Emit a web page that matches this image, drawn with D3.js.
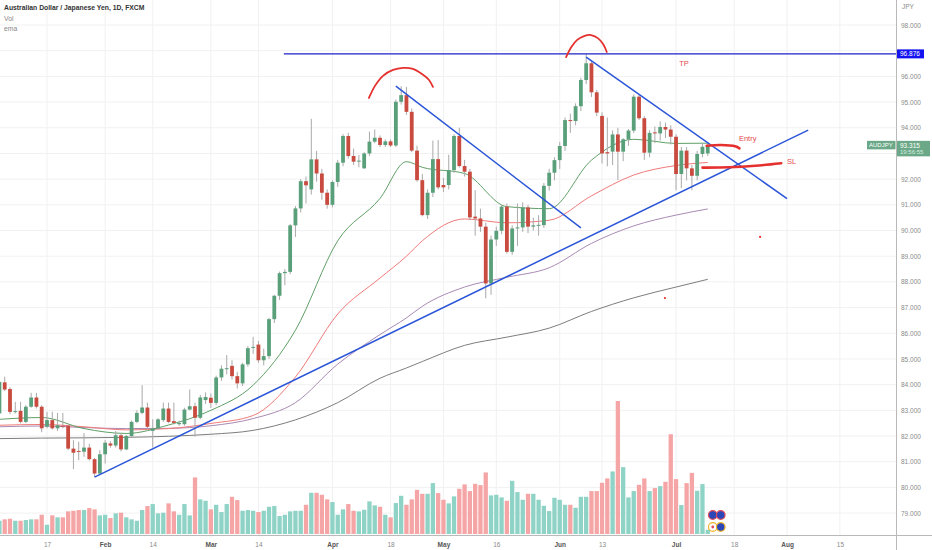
<!DOCTYPE html>
<html>
<head>
<meta charset="utf-8">
<script src="https://cdnjs.cloudflare.com/ajax/libs/d3/7.8.5/d3.min.js"></script>
<style>
	body { margin:0; background:#fff; }
	svg { display:block; font-family:"Liberation Sans", Arial, sans-serif; }
</style>
</head>
<body>
<div id="chart-div"></div>
<script>
//AUDJPY daily, FXCM - values

//Candles, first one is 2022-01-04, one per trading day
var firstCandleDate = "2022-01-04";
var candleOpen = [82.88,84.09,83.83,82.94,82.98,82.55,83.14,83.50,83.14,82.36,82.62,82.30,82.40,82.40,81.51,81.42,81.39,81.55,81.10,80.54,
	81.29,81.71,81.63,82.03,81.48,82.00,82.55,82.90,83.11,82.20,82.30,82.62,83.07,82.58,82.46,82.46,83.03,83.16,82.71,83.40,
	83.49,83.29,84.28,84.62,84.73,84.33,84.05,84.79,85.45,85.56,84.95,85.11,86.55,87.46,88.34,88.39,90.20,90.86,91.92,91.60,
	92.77,92.22,91.47,91.00,91.89,92.64,93.68,92.90,92.70,92.42,93.00,93.46,93.61,93.33,93.47,93.31,95.01,95.27,94.62,93.11,
	91.96,90.60,91.47,92.78,91.77,91.77,92.35,93.68,92.51,92.29,90.54,90.47,90.15,87.94,89.65,89.99,90.93,89.17,90.10,90.12,
	90.90,90.15,90.20,90.21,91.74,92.25,92.74,93.29,94.30,94.26,94.84,95.86,96.51,95.38,94.46,93.05,93.07,93.74,93.07,93.55,
	93.89,95.21,94.37,93.03,93.82,93.78,94.03,93.93,93.65,92.20,93.11,92.42,92.13,92.98,93.00];
var candleHigh = [84.20,84.31,83.90,83.33,83.33,83.20,83.68,83.68,83.20,82.94,82.95,82.90,82.90,82.45,81.84,81.78,82.12,81.70,81.15,81.45,
	81.84,81.80,82.20,82.10,82.05,82.60,83.00,83.98,83.30,82.65,82.70,83.30,83.30,83.30,82.60,83.10,83.81,83.30,83.60,83.70,
	83.65,84.35,84.75,85.15,84.95,84.50,84.85,85.50,85.86,85.70,85.40,86.60,87.50,88.40,88.50,90.25,90.95,92.00,92.10,94.35,
	93.10,92.40,91.60,91.95,92.75,93.75,93.80,93.19,92.94,93.05,93.85,93.93,93.70,93.55,93.55,95.10,95.62,95.59,94.75,93.30,
	92.20,91.60,93.50,93.52,92.05,92.95,93.75,94.00,92.75,92.40,91.57,90.85,90.30,89.80,90.15,91.00,91.05,90.20,91.05,91.10,
	91.00,90.50,90.60,91.85,92.40,92.85,93.45,94.40,94.55,94.95,95.95,96.88,96.62,95.47,94.60,94.40,93.90,94.00,93.60,93.95,
	95.30,95.28,94.45,93.90,94.05,94.25,94.20,94.10,93.75,93.25,93.25,92.55,93.10,93.40,93.45];
var candleLow = [82.80,83.75,82.85,82.88,82.49,82.50,83.10,83.07,82.15,82.30,82.25,82.20,82.30,81.45,80.71,81.06,81.19,81.05,80.41,80.48,
	80.93,81.55,81.55,81.40,81.45,81.95,82.50,82.85,82.30,81.55,82.25,82.55,82.50,82.45,82.40,82.40,83.00,81.98,82.65,83.25,
	83.10,83.20,84.15,84.40,84.20,83.85,83.95,84.70,85.20,84.85,84.75,85.00,86.40,87.30,87.87,88.30,89.75,90.70,91.05,91.40,
	91.90,91.20,90.85,90.90,91.70,92.50,92.80,92.55,92.46,92.40,92.90,93.40,93.25,93.25,93.25,93.25,94.90,94.50,93.05,91.90,
	90.55,90.45,91.30,91.60,91.50,91.60,92.25,92.45,92.10,90.40,89.80,89.95,87.36,87.50,89.40,89.85,89.10,89.05,89.40,89.95,
	89.90,90.00,89.80,90.10,91.55,91.95,92.40,93.10,93.80,94.10,94.65,95.70,95.20,94.45,92.61,92.50,92.55,91.96,92.70,93.30,
	93.80,94.30,92.75,92.85,93.40,93.50,93.60,93.35,91.57,91.65,91.95,91.57,91.95,92.85,92.90];
var candleClose = [84.11,83.81,82.94,82.97,82.55,83.14,83.50,83.14,82.30,82.62,82.30,82.42,82.38,81.51,81.35,81.40,81.55,81.10,80.54,81.29,
	81.74,81.63,82.03,81.48,82.00,82.55,82.90,83.11,82.36,82.30,82.65,83.07,82.55,82.51,82.51,83.03,83.16,82.71,83.50,83.52,
	83.29,84.28,84.62,84.64,84.33,84.05,84.79,85.42,85.47,84.95,85.11,86.55,87.46,88.34,88.39,90.20,90.86,91.92,91.76,92.77,
	92.22,91.47,91.00,91.89,92.64,93.68,92.90,92.68,92.72,93.00,93.46,93.61,93.33,93.47,93.31,95.01,95.27,94.62,93.11,91.96,
	90.60,91.47,92.78,91.68,91.68,92.35,93.68,92.51,92.29,90.51,90.47,90.15,87.94,89.65,89.99,90.93,89.17,90.08,90.12,90.90,
	90.15,90.20,90.22,91.74,92.25,92.74,93.29,94.30,94.26,94.84,95.86,96.51,95.38,94.59,93.00,93.00,93.74,93.07,93.55,93.89,
	95.21,94.37,93.03,93.80,93.78,94.03,93.93,93.65,92.20,93.11,92.42,92.13,92.98,93.26,93.315];
var volume = [13.3,14.7,15.3,13.3,13.3,14,14.7,14.7,19.3,9.3,18.7,16.7,16.7,22.7,23.3,24,24,26,24.7,18.7,
	19.3,16,20.7,21.3,16.7,14.7,13.3,24,28,30,20.7,21.3,30.7,22.7,19.3,30,18.7,56.7,34.7,33.3,
	24.7,29.3,22,30,37.3,34,23.3,24,23.3,22,23.3,27.3,28,18,19.3,22.7,23.3,23.3,29.3,41.3,
	41.3,39.3,34.7,32,19.3,24.7,30,23.3,22.7,24.3,32.7,28.7,27.3,19.3,16.7,31,38.3,29.3,34.7,44.3,
	40.3,40.3,51,41,34.3,30.7,37.7,45.3,49.7,43,50.3,49,61.7,38.7,39.3,36.7,33.3,53.3,42,34.3,
	40.3,40.3,34.3,28.3,23,36.3,34.3,29.3,29.3,26.3,37.3,37.3,43,43,51.3,55.7,62.7,133.3,67,36.7,
	43,49.3,55.7,43,46,48,52.3,100,55,29,51,61.3,43.3,50,4.3];

//EMA readings, sampled at bar numbers (bar 0 = 2022-01-03)
var emaBars   = [1,9,17,25,33,41,49,57,65,73,78,81,89,97,105,113,121,129,135];
var emaFast   = [82.65,82.72,82.29,82.10,82.43,83.00,83.98,86.12,89.60,91.25,92.68,92.46,92.22,90.93,90.85,92.74,93.55,93.39,93.40];
var emaMid    = [82.42,82.45,82.36,82.24,82.29,82.49,82.80,84.30,86.75,88.15,89.00,89.60,90.45,90.30,90.40,91.35,92.16,92.53,92.65];
var emaSlow   = [82.36,82.39,82.33,82.29,82.30,82.40,82.68,83.30,84.80,85.95,86.60,87.05,87.80,88.18,88.55,89.50,90.18,90.60,90.84];
var emaLong   = [81.90,81.92,81.93,81.95,81.99,82.07,82.22,82.63,83.30,84.25,84.65,84.90,85.53,85.85,86.20,86.85,87.38,87.80,88.10];

//Axis labels
var priceTicks = [79,80,81,82,83,84,85,86,87,88,89,90,91,92,93,94,95,96,97,98];
var tickDates  = ["2022-01-17","2022-02-01","2022-02-14","2022-03-01","2022-03-14","2022-04-01","2022-04-18","2022-05-02",
	"2022-05-16","2022-06-01","2022-06-13","2022-07-01","2022-07-18","2022-08-01","2022-08-15"];
var tickLabels = ["17","Feb","14","Mar","14","Apr","18","May","16","Jun","13","Jul","18","Aug","15"];
var monthNames = ["Feb","Mar","Apr","May","Jun","Jul","Aug"];

//Drawings on the chart, [bar number, price]
var tpLevel      = 96.876;
var tpStartBar   = 54.8;
var supportLine  = [[19, 80.40], [154, 93.91]];
var aprilLine    = [[76, 95.62], [111, 90.10]];
var juneLine     = [[112, 96.75], [150, 91.24]];
var aprilArc     = [[70.9,95.16],[72.05,95.63],[73.56,96.02],[75.46,96.25],[77.35,96.33],[79.24,96.29],[80.94,96.09],[82.27,95.86],[83.02,95.59]];
var juneArc      = [[108.2,96.75],[109.2,97.14],[110.3,97.42],[111.6,97.57],[112.9,97.61],[114.2,97.49],[115.2,97.26],[115.9,96.95]];
var entryMark    = [[134.8,93.30],[137.5,93.33],[140.2,93.28],[141.0,93.20]];
var stopMark     = [[134.0,92.45],[139,92.46],[144,92.52],[148.9,92.62]];
var noteLabels   = [{text:"TP", bar:129.6, price:96.40}, {text:"Entry", bar:140.9, price:93.48}, {text:"SL", bar:150, price:92.59}];
var redDots      = [[144.9,89.75],[126.9,87.37]];
var lastPrice    = 93.315;
var countdown    = "19:56:55";

//Canvas
var chartW = 932, chartH = 550,
	paneRight = 896, paneBottom = 535;

var upColor = "#59a07a", downColor = "#c94a3e", wickColor = "#a9a9a9",
	volUp = "#8fd3c6", volDown = "#f5a5a5";

//Trading calendar (weekdays) so bars line up with dates
var fmtDay = d3.timeFormat("%Y-%m-%d");
var tradingDays = d3.timeDay.range(new Date(2022,0,3), new Date(2022,8,1))
	.filter(function(d) { return d.getDay() != 0 && d.getDay() != 6; });
var dayIndex = {};
tradingDays.forEach(function(d, i) { dayIndex[fmtDay(d)] = i; });

var firstBar = dayIndex[firstCandleDate];
var candles = candleOpen.map(function(o, k) {
	return { bar: firstBar + k, open: o, high: candleHigh[k], low: candleLow[k], close: candleClose[k], vol: volume[k] };
});

//Scales
var barStep = 5.286;
var xScale = d3.scaleLinear().domain([0, 170]).range([-5.86, -5.86 + 170 * barStep]);
var yScale = d3.scaleLinear().domain([79, 98]).range([513.1, 25]);
var volScale = d3.scaleLinear().domain([0, d3.max(volume)]).range([534, 401]);

var svg = d3.select("#chart-div")
	.append("svg")
	.attr("width", chartW)
	.attr("height", chartH);

svg.append("rect").attr("width", chartW).attr("height", chartH).attr("fill", "#fff");

svg.append("clipPath").attr("id", "pane-clip")
	.append("rect").attr("x", 0).attr("y", 0).attr("width", paneRight).attr("height", paneBottom);

//Grid
var grid = svg.append("g").attr("class", "grid");
grid.selectAll("line.hgrid")
	.data(priceTicks)
	.enter()
	.append("line")
		.attr("x1", 0).attr("x2", paneRight)
		.attr("y1", function(d) { return yScale(d); })
		.attr("y2", function(d) { return yScale(d); })
		.attr("stroke", "#f1f1f3").attr("stroke-width", 1);
grid.selectAll("line.vgrid")
	.data(tickDates)
	.enter()
	.append("line")
		.attr("x1", function(d) { return xScale(dayIndex[d]); })
		.attr("x2", function(d) { return xScale(dayIndex[d]); })
		.attr("y1", 0).attr("y2", paneBottom)
		.attr("stroke", "#f1f1f3").attr("stroke-width", 1);

var pane = svg.append("g").attr("clip-path", "url(#pane-clip)");

//Volume
pane.selectAll("rect.vol")
	.data(candles)
	.enter()
	.append("rect")
		.attr("class", "vol")
		.attr("x", function(d) { return xScale(d.bar) - 2.15; })
		.attr("width", 4.3)
		.attr("y", function(d) { return volScale(d.vol); })
		.attr("height", function(d) { return volScale(0) - volScale(d.vol); })
		.attr("fill", function(d) { return d.close >= d.open ? volUp : volDown; });

//EMA lines
var emaLine = d3.line()
	.curve(d3.curveMonotoneX)
	.x(function(d, i) { return xScale(emaBars[i]); })
	.y(function(d) { return yScale(d); });

[[emaLong, "#7d7d7d"], [emaSlow, "#a98ab4"], [emaMid, "#f07a7a"], [emaFast, "#5f9f66"]].forEach(function(e) {
	pane.append("path")
		.datum(e[0])
		.attr("d", emaLine)
		.attr("fill", "none")
		.attr("stroke", e[1])
		.attr("stroke-width", 1);
});

//Candles
pane.selectAll("line.wick")
	.data(candles)
	.enter()
	.append("line")
		.attr("class", "wick")
		.attr("x1", function(d) { return xScale(d.bar); })
		.attr("x2", function(d) { return xScale(d.bar); })
		.attr("y1", function(d) { return yScale(d.high); })
		.attr("y2", function(d) { return yScale(d.low); })
		.attr("stroke", wickColor).attr("stroke-width", 1);

pane.selectAll("rect.body")
	.data(candles)
	.enter()
	.append("rect")
		.attr("class", "body")
		.attr("x", function(d) { return xScale(d.bar) - 1.9; })
		.attr("width", 3.8)
		.attr("y", function(d) { return yScale(Math.max(d.open, d.close)); })
		.attr("height", function(d) { return Math.max(1, Math.abs(yScale(d.open) - yScale(d.close))); })
		.attr("fill", function(d) { return d.close >= d.open ? upColor : downColor; });

//Drawings
var drawLine = d3.line()
	.x(function(d) { return xScale(d[0]); })
	.y(function(d) { return yScale(d[1]); });
var drawCurve = d3.line()
	.curve(d3.curveCatmullRom)
	.x(function(d) { return xScale(d[0]); })
	.y(function(d) { return yScale(d[1]); });

pane.append("path")
	.datum([[tpStartBar, tpLevel], [175, tpLevel]])
	.attr("d", drawLine)
	.attr("stroke", "#1c22c9").attr("stroke-width", 1.3).attr("fill", "none");

[supportLine, aprilLine, juneLine].forEach(function(l) {
	pane.append("path")
		.datum(l)
		.attr("d", drawLine)
		.attr("stroke", "#2a55d8").attr("stroke-width", 1.5).attr("fill", "none");
});

[aprilArc, juneArc].forEach(function(a) {
	pane.append("path")
		.datum(a)
		.attr("d", drawCurve)
		.attr("stroke", "#e5312e").attr("stroke-width", 1.8).attr("fill", "none")
		.attr("stroke-linecap", "round");
});

[entryMark, stopMark].forEach(function(a) {
	pane.append("path")
		.datum(a)
		.attr("d", drawCurve)
		.attr("stroke", "#e5312e").attr("stroke-width", 2.6).attr("fill", "none")
		.attr("stroke-linecap", "round");
});

pane.selectAll("text.note")
	.data(noteLabels)
	.enter()
	.append("text")
		.attr("x", function(d) { return xScale(d.bar); })
		.attr("y", function(d) { return yScale(d.price); })
		.text(function(d) { return d.text; })
		.attr("fill", "#e34b4b")
		.attr("font-size", "7.5px");

pane.selectAll("circle.dot")
	.data(redDots)
	.enter()
	.append("circle")
		.attr("cx", function(d) { return xScale(d[0]); })
		.attr("cy", function(d) { return yScale(d[1]); })
		.attr("r", 1.1)
		.attr("fill", "#e5312e");

//Event markers under the last bar
var markers = svg.append("g").attr("transform", "translate(" + (xScale(candles[candles.length - 1].bar) + 5) + ",0)");
[[0, 515, "#2c47b8", "#e04a5a"], [8, 515, "#2c47b8", "#e04a5a"], [0, 527, "#ffffff", "#f0b429"], [8, 527, "#2c47b8", "#f0b429"]].forEach(function(m) {
	markers.append("circle").attr("cx", m[0]).attr("cy", m[1]).attr("r", 4.3)
		.attr("fill", m[2]).attr("stroke", m[3]).attr("stroke-width", 1.2);
});
markers.append("circle").attr("cx", 0).attr("cy", 527).attr("r", 1.4).attr("fill", "#e04a5a");

//Axes - labels hidden under the price boxes are dropped
var lastY = yScale(lastPrice), tpY = yScale(tpLevel);

var yAxis = d3.axisRight(yScale)
	.tickValues(priceTicks.filter(function(p) {
		return Math.abs(yScale(p) - tpY) > 7 && Math.abs(yScale(p) - (lastY + 3)) > 11;
	}))
	.tickFormat(d3.format(".3f"))
	.tickSize(0)
	.tickPadding(5);

var yAxisG = svg.append("g")
	.attr("class", "axis y-axis")
	.attr("transform", "translate(" + paneRight + ",0)")
	.call(yAxis);
yAxisG.select(".domain").remove();
yAxisG.selectAll("text").attr("fill", "#8a8a8a").attr("font-size", "6.5px");

var xAxis = d3.axisBottom(xScale)
	.tickValues(tickDates.map(function(d) { return dayIndex[d]; }))
	.tickFormat(function(d, i) { return tickLabels[i]; })
	.tickSize(0)
	.tickPadding(7);

var xAxisG = svg.append("g")
	.attr("class", "axis x-axis")
	.attr("transform", "translate(0," + paneBottom + ")")
	.call(xAxis);
xAxisG.select(".domain").remove();
xAxisG.selectAll("text")
	.attr("font-size", "6.5px")
	.attr("fill", function(d, i) { return monthNames.indexOf(tickLabels[i]) >= 0 ? "#555" : "#8a8a8a"; })
	.attr("font-weight", function(d, i) { return monthNames.indexOf(tickLabels[i]) >= 0 ? "bold" : "normal"; });

//Pane borders
svg.append("line").attr("x1", 0).attr("x2", chartW).attr("y1", paneBottom + 0.5).attr("y2", paneBottom + 0.5)
	.attr("stroke", "#b9b9b9").attr("stroke-width", 1);
svg.append("line").attr("x1", paneRight + 0.5).attr("x2", paneRight + 0.5).attr("y1", 0).attr("y2", chartH)
	.attr("stroke", "#b9b9b9").attr("stroke-width", 1);

svg.append("text").attr("x", 902).attr("y", 9).text("JPY").attr("fill", "#8a8a8a").attr("font-size", "6.5px");

//Price boxes on the axis
svg.append("rect").attr("x", paneRight + 1).attr("y", tpY - 4.5).attr("width", 27).attr("height", 9).attr("fill", "#1414f0");
svg.append("text").attr("x", paneRight + 4).attr("y", tpY + 2.3).text(d3.format(".3f")(tpLevel))
	.attr("fill", "#fff").attr("font-size", "6.5px");

svg.append("rect").attr("x", 867).attr("y", lastY - 4.5).attr("width", 28.5).attr("height", 8.5).attr("fill", "#6aa887");
svg.append("text").attr("x", 869).attr("y", lastY + 2).text("AUDJPY").attr("fill", "#fff").attr("font-size", "6px");
svg.append("rect").attr("x", paneRight + 1).attr("y", lastY - 4.5).attr("width", 33).attr("height", 15.5).attr("fill", "#6aa887");
svg.append("text").attr("x", paneRight + 4).attr("y", lastY + 2.2).text(d3.format(".3f")(lastPrice))
	.attr("fill", "#fff").attr("font-size", "6.5px");
svg.append("text").attr("x", paneRight + 4).attr("y", lastY + 9).text(countdown)
	.attr("fill", "#d5eee0").attr("font-size", "6px");

//Legend text
svg.append("text").attr("x", 4).attr("y", 10).text("Australian Dollar / Japanese Yen, 1D, FXCM")
	.attr("fill", "#333").attr("font-size", "6.8px").attr("font-weight", "bold");
svg.append("text").attr("x", 4).attr("y", 21).text("Vol").attr("fill", "#888").attr("font-size", "6.8px");
svg.append("text").attr("x", 4).attr("y", 31).text("ema").attr("fill", "#888").attr("font-size", "6.8px");
</script>
</body>
</html>
